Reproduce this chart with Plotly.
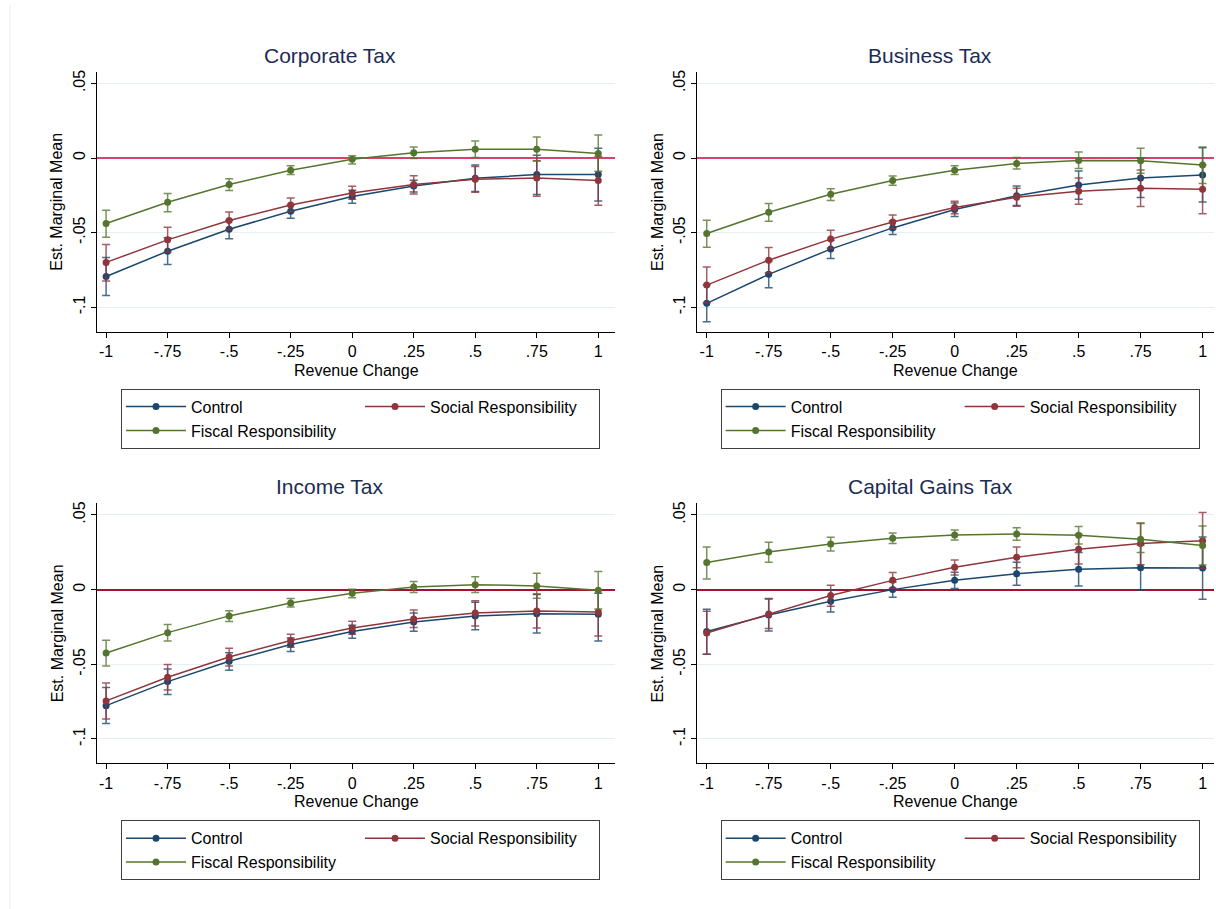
import plotly.graph_objects as go

# Revenue change levels (x) and axis labelling
revenue_change = [-1, -0.75, -0.5, -0.25, 0, 0.25, 0.5, 0.75, 1]
x_tick_text = ["-1", "-.75", "-.5", "-.25", "0", ".25", ".5", ".75", "1"]
y_tick_vals = [-0.1, -0.05, 0, 0.05]
y_tick_text = ["-.1", "-.05", "0", ".05"]

panel_titles = ["Corporate Tax", "Business Tax", "Income Tax", "Capital Gains Tax"]
series_names = ["Control", "Social Responsibility", "Fiscal Responsibility"]

# Corporate tax: estimated marginal means with 95% CI bounds
corp_control = [-0.0793, -0.0624, -0.0477, -0.0356, -0.0258, -0.0187, -0.0136, -0.0111, -0.0111]
corp_control_lo = [-0.0920, -0.0713, -0.0541, -0.0403, -0.0303, -0.0227, -0.0225, -0.0245, -0.0287]
corp_control_hi = [-0.0666, -0.0534, -0.0419, -0.0314, -0.0216, -0.0149, -0.0047, 0.0018, 0.0065]
corp_social = [-0.0699, -0.0548, -0.0419, -0.0314, -0.0234, -0.0178, -0.0143, -0.0134, -0.0151]
corp_social_lo = [-0.0824, -0.0630, -0.0479, -0.0359, -0.0276, -0.0241, -0.0229, -0.0256, -0.0316]
corp_social_hi = [-0.0579, -0.0463, -0.0361, -0.0267, -0.0189, -0.0118, -0.0056, -0.0018, 0.0011]
corp_fiscal = [-0.0439, -0.0296, -0.0178, -0.0082, -0.0009, 0.0036, 0.0058, 0.0058, 0.0031]
corp_fiscal_lo = [-0.0530, -0.0359, -0.0218, -0.0111, -0.0040, -0.0004, 0.0004, -0.0020, -0.0089]
corp_fiscal_hi = [-0.0350, -0.0238, -0.0138, -0.0051, 0.0016, 0.0073, 0.0114, 0.0140, 0.0154]

# Business tax
bus_control = [-0.0973, -0.0779, -0.0610, -0.0468, -0.0345, -0.0252, -0.0180, -0.0134, -0.0114]
bus_control_lo = [-0.1096, -0.0869, -0.0673, -0.0512, -0.0392, -0.0318, -0.0276, -0.0265, -0.0294]
bus_control_hi = [-0.0851, -0.0690, -0.0550, -0.0423, -0.0301, -0.0187, -0.0087, -0.0002, 0.0069]
bus_social = [-0.0851, -0.0684, -0.0543, -0.0428, -0.0332, -0.0263, -0.0223, -0.0203, -0.0209]
bus_social_lo = [-0.0969, -0.0768, -0.0604, -0.0474, -0.0374, -0.0323, -0.0310, -0.0325, -0.0374]
bus_social_hi = [-0.0730, -0.0599, -0.0483, -0.0381, -0.0290, -0.0203, -0.0134, -0.0080, -0.0047]
bus_fiscal = [-0.0506, -0.0363, -0.0243, -0.0151, -0.0082, -0.0036, -0.0016, -0.0018, -0.0047]
bus_fiscal_lo = [-0.0597, -0.0423, -0.0285, -0.0183, -0.0111, -0.0073, -0.0071, -0.0102, -0.0171]
bus_fiscal_hi = [-0.0416, -0.0305, -0.0205, -0.0120, -0.0051, 0.0004, 0.0040, 0.0065, 0.0073]

# Income tax
inc_control = [-0.0777, -0.0616, -0.0480, -0.0368, -0.0281, -0.0217, -0.0176, -0.0161, -0.0165]
inc_control_lo = [-0.0897, -0.0703, -0.0540, -0.0415, -0.0326, -0.0279, -0.0268, -0.0290, -0.0344]
inc_control_hi = [-0.0656, -0.0531, -0.0422, -0.0324, -0.0239, -0.0156, -0.0085, -0.0033, -0.0025]
inc_social = [-0.0745, -0.0587, -0.0451, -0.0341, -0.0257, -0.0196, -0.0156, -0.0143, -0.0150]
inc_social_lo = [-0.0866, -0.0672, -0.0511, -0.0386, -0.0299, -0.0254, -0.0243, -0.0257, -0.0310]
inc_social_hi = [-0.0625, -0.0502, -0.0393, -0.0299, -0.0212, -0.0136, -0.0074, -0.0029, -0.0002]
inc_fiscal = [-0.0424, -0.0288, -0.0176, -0.0089, -0.0025, 0.0018, 0.0033, 0.0025, -0.0004]
inc_fiscal_lo = [-0.0511, -0.0344, -0.0214, -0.0116, -0.0054, -0.0020, -0.0020, -0.0058, -0.0129]
inc_fiscal_hi = [-0.0339, -0.0234, -0.0141, -0.0060, 0.0002, 0.0054, 0.0087, 0.0109, 0.0121]

# Capital gains tax
cg_control = [-0.0281, -0.0170, -0.0078, 0.0000, 0.0062, 0.0107, 0.0136, 0.0147, 0.0145]
cg_control_lo = [-0.0433, -0.0277, -0.0150, -0.0051, 0.0007, 0.0029, 0.0025, -0.0004, -0.0065]
cg_control_hi = [-0.0132, -0.0062, -0.0004, 0.0051, 0.0116, 0.0183, 0.0248, 0.0299, 0.0353]
cg_social = [-0.0290, -0.0163, -0.0040, 0.0062, 0.0150, 0.0217, 0.0270, 0.0308, 0.0328]
cg_social_lo = [-0.0433, -0.0261, -0.0112, 0.0009, 0.0098, 0.0147, 0.0172, 0.0167, 0.0143]
cg_social_hi = [-0.0145, -0.0060, 0.0029, 0.0114, 0.0199, 0.0286, 0.0370, 0.0446, 0.0516]
cg_fiscal = [0.0181, 0.0252, 0.0306, 0.0344, 0.0366, 0.0373, 0.0364, 0.0337, 0.0295]
cg_fiscal_lo = [0.0071, 0.0183, 0.0259, 0.0308, 0.0333, 0.0330, 0.0306, 0.0248, 0.0165]
cg_fiscal_hi = [0.0286, 0.0317, 0.0351, 0.0379, 0.0400, 0.0415, 0.0422, 0.0442, 0.0426]

panels = [
    [(corp_control, corp_control_lo, corp_control_hi),
     (corp_social, corp_social_lo, corp_social_hi),
     (corp_fiscal, corp_fiscal_lo, corp_fiscal_hi)],
    [(bus_control, bus_control_lo, bus_control_hi),
     (bus_social, bus_social_lo, bus_social_hi),
     (bus_fiscal, bus_fiscal_lo, bus_fiscal_hi)],
    [(inc_control, inc_control_lo, inc_control_hi),
     (inc_social, inc_social_lo, inc_social_hi),
     (inc_fiscal, inc_fiscal_lo, inc_fiscal_hi)],
    [(cg_control, cg_control_lo, cg_control_hi),
     (cg_social, cg_social_lo, cg_social_hi),
     (cg_fiscal, cg_fiscal_lo, cg_fiscal_hi)],
]

line_colors = ["#1a476f", "#90353b", "#55752f"]
bar_colors = ["rgba(26,71,111,0.8)", "rgba(144,53,59,0.8)", "rgba(85,117,47,0.8)"]
zero_colors = ["#d9416b", "#d9416b", "#a5122f", "#a5122f"]

W, H = 1216, 909
FONT = "Arial, Liberation Sans, sans-serif"

# Pixel layout of each panel's plotting area: (left, right, top, bottom)
boxes = [
    (97, 615, 71.7, 331.7),
    (697.3, 1214, 71.7, 331.7),
    (97, 615, 503.3, 763.3),
    (697.3, 1214, 503.3, 763.3),
]
x_ranges = [(-1.037, 1.068), (-1.038, 1.046), (-1.037, 1.068), (-1.038, 1.046)]
y_range = (-0.1163, 0.0578)
title_centers = [330, 930, 330, 930]

fig = go.Figure()
layout = dict(
    width=W, height=H,
    margin=dict(l=0, r=0, t=0, b=0),
    paper_bgcolor="white", plot_bgcolor="white",
    font=dict(family=FONT, size=16, color="black"),
    showlegend=True,
)
annotations = []
shapes = []

for p, series in enumerate(panels):
    k = "" if p == 0 else str(p + 1)
    left, right, top, bottom = boxes[p]
    xd = [left / W, right / W]
    yd = [1 - bottom / H, 1 - top / H]
    legend_name = "legend" + k

    for s, (mean, lo, hi) in enumerate(series):
        fig.add_trace(go.Scatter(
            x=revenue_change, y=mean,
            mode="lines+markers",
            name=series_names[s],
            line=dict(color=line_colors[s], width=1.5),
            marker=dict(color=line_colors[s], size=7),
            error_y=dict(
                type="data",
                array=[h - m for h, m in zip(hi, mean)],
                arrayminus=[m - l for m, l in zip(mean, lo)],
                color=bar_colors[s], thickness=1.5, width=4,
            ),
            xaxis="x" + k, yaxis="y" + k,
            legend=legend_name,
            legendgroup=f"p{p}-{'b' if s == 1 else 'a'}",
        ))

    layout["xaxis" + k] = dict(
        domain=xd, anchor="y" + k, range=list(x_ranges[p]),
        tickvals=revenue_change, ticktext=x_tick_text,
        showline=True, linecolor="black", linewidth=1,
        ticks="outside", ticklen=5, tickcolor="black",
        showgrid=False, zeroline=False,
        tickfont=dict(size=16, color="black"),
        automargin=False,
    )
    layout["yaxis" + k] = dict(
        domain=yd, anchor="x" + k, range=list(y_range),
        tickvals=y_tick_vals, ticktext=y_tick_text, tickangle=-90,
        showline=True, linecolor="black", linewidth=1,
        ticks="outside", ticklen=5, tickcolor="black",
        showgrid=True, gridcolor="#e8eff0", gridwidth=1,
        zeroline=True, zerolinecolor=zero_colors[p], zerolinewidth=1.5,
        tickfont=dict(size=16, color="black"),
        automargin=False,
    )
    layout[legend_name] = dict(
        orientation="h", traceorder="grouped",
        x=((left + right) / 2 - 235) / W, xanchor="left",
        y=1 - (bottom + 57) / H, yanchor="top",
        bordercolor="#404040", borderwidth=1, bgcolor="white",
        font=dict(family=FONT, size=16, color="black"),
        itemwidth=60, entrywidth=164, entrywidthmode="pixels",
    )

    # Panel title
    annotations.append(dict(
        text=panel_titles[p], x=title_centers[p] / W, y=1 - (top - 16.5) / H,
        xref="paper", yref="paper", xanchor="center", yanchor="middle",
        showarrow=False, font=dict(family=FONT, size=21, color="#1c2c54"),
    ))
    # Axis titles
    annotations.append(dict(
        text="Revenue Change", x=(left + right) / 2 / W, y=1 - (bottom + 38.5) / H,
        xref="paper", yref="paper", xanchor="center", yanchor="middle",
        showarrow=False, font=dict(family=FONT, size=16, color="black"),
    ))
    annotations.append(dict(
        text="Est. Marginal Mean", x=(left - 40) / W, y=1 - (top + bottom) / 2 / H,
        xref="paper", yref="paper", xanchor="center", yanchor="middle",
        textangle=-90, showarrow=False,
        font=dict(family=FONT, size=16, color="black"),
    ))

# Faint page edge on the left
shapes.append(dict(type="line", xref="paper", yref="paper",
                   x0=10 / W, x1=10 / W, y0=0, y1=1 - 5 / H,
                   line=dict(color="#ececec", width=1)))

layout["annotations"] = annotations
layout["shapes"] = shapes
fig.update_layout(**layout)

fig.write_html("out.html")
